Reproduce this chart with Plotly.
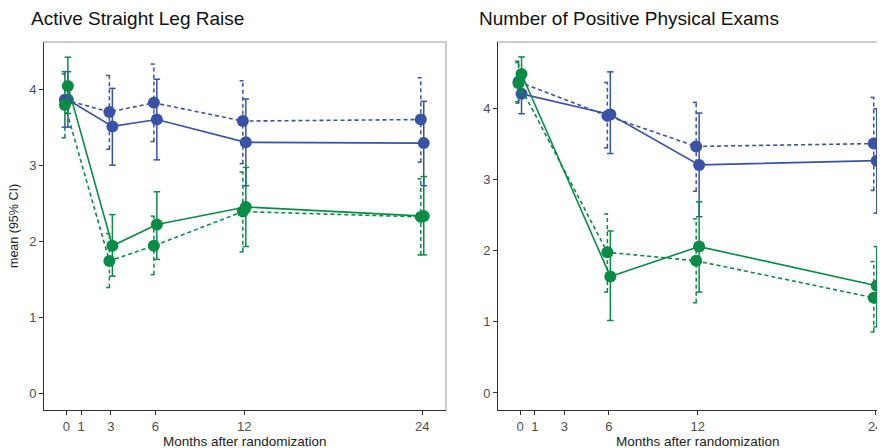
import plotly.graph_objects as go

# ---------------- data ----------------
# Panel 1: Active Straight Leg Raise
months_aslr = [0, 3, 6, 12, 24]
aslr_blue_solid = [3.86, 3.51, 3.60, 3.30, 3.29]
aslr_blue_solid_lo = [3.50, 3.00, 3.07, 2.73, 2.73]
aslr_blue_solid_hi = [4.23, 4.01, 4.13, 3.87, 3.84]
aslr_blue_dash = [3.86, 3.70, 3.82, 3.58, 3.60]
aslr_blue_dash_lo = [3.50, 3.21, 3.31, 3.02, 3.04]
aslr_blue_dash_hi = [4.20, 4.18, 4.33, 4.11, 4.15]
aslr_green_solid = [4.04, 1.94, 2.22, 2.45, 2.33]
aslr_green_solid_lo = [3.68, 1.54, 1.76, 1.93, 1.82]
aslr_green_solid_hi = [4.42, 2.35, 2.65, 2.97, 2.85]
aslr_green_dash = [3.79, 1.74, 1.94, 2.39, 2.32]
aslr_green_dash_lo = [3.36, 1.39, 1.56, 1.86, 1.82]
aslr_green_dash_hi = [4.23, 2.10, 2.33, 2.91, 2.82]

# Panel 2: Number of Positive Physical Exams
months_exam = [0, 6, 12, 24]
exam_blue_solid = [4.21, 3.92, 3.21, 3.27]
exam_blue_solid_lo = [3.93, 3.37, 2.48, 2.53]
exam_blue_solid_hi = [4.48, 4.52, 3.94, 4.00]
exam_blue_dash = [4.38, 3.90, 3.47, 3.51]
exam_blue_dash_lo = [4.08, 3.45, 2.84, 2.85]
exam_blue_dash_hi = [4.67, 4.37, 4.09, 4.16]
exam_green_solid = [4.49, 1.64, 2.06, 1.51]
exam_green_solid_lo = [4.22, 1.02, 1.42, 0.93]
exam_green_solid_hi = [4.73, 2.28, 2.69, 2.06]
exam_green_dash = [4.36, 1.98, 1.86, 1.34]
exam_green_dash_lo = [4.10, 1.42, 1.27, 0.86]
exam_green_dash_hi = [4.65, 2.52, 2.45, 1.85]

x_tick_vals = [0, 1, 3, 6, 12, 24]
y_tick_vals = [0, 1, 2, 3, 4]
titles = ["Active Straight Leg Raise", "Number of Positive Physical Exams"]
x_title = "Months after randomization"
y_title = "mean (95% CI)"

# ---------------- style ----------------
BLUE = "#3a52a6"
GREEN = "#098c45"
DODGE = 0.1
CAP = 0.22
DASH = "4px,3px"

W, H = 885, 448
PAGE_OFF = 8  # default body margin of the html page


def X(px):
    return (px - PAGE_OFF) / W


def Y(py):
    return (H - (py - PAGE_OFF)) / H


fig = go.Figure()


def add_series(months, mean, lo, hi, color, dashed, xa, ya):
    off = -DODGE if dashed else DODGE
    xs = [m + off for m in months]
    ex, ey = [], []
    for x, l, h in zip(xs, lo, hi):
        ex += [x, x, None, x - CAP, x + CAP, None, x - CAP, x + CAP, None]
        ey += [l, h, None, l, l, None, h, h, None]
    fig.add_trace(go.Scatter(
        x=ex, y=ey, mode="lines", xaxis=xa, yaxis=ya,
        line=dict(color=color, width=1.5, dash=DASH if dashed else "solid"),
        hoverinfo="skip", showlegend=False))
    fig.add_trace(go.Scatter(
        x=xs, y=mean, mode="lines+markers", xaxis=xa, yaxis=ya,
        line=dict(color=color, width=1.6, dash=DASH if dashed else "solid"),
        marker=dict(color=color, size=12, line=dict(width=0)),
        showlegend=False))


# panel 1
add_series(months_aslr, aslr_blue_dash, aslr_blue_dash_lo, aslr_blue_dash_hi, BLUE, True, "x", "y")
add_series(months_aslr, aslr_blue_solid, aslr_blue_solid_lo, aslr_blue_solid_hi, BLUE, False, "x", "y")
add_series(months_aslr, aslr_green_dash, aslr_green_dash_lo, aslr_green_dash_hi, GREEN, True, "x", "y")
add_series(months_aslr, aslr_green_solid, aslr_green_solid_lo, aslr_green_solid_hi, GREEN, False, "x", "y")
# panel 2
add_series(months_exam, exam_blue_dash, exam_blue_dash_lo, exam_blue_dash_hi, BLUE, True, "x2", "y2")
add_series(months_exam, exam_blue_solid, exam_blue_solid_lo, exam_blue_solid_hi, BLUE, False, "x2", "y2")
add_series(months_exam, exam_green_dash, exam_green_dash_lo, exam_green_dash_hi, GREEN, True, "x2", "y2")
add_series(months_exam, exam_green_solid, exam_green_solid_lo, exam_green_solid_hi, GREEN, False, "x2", "y2")

FONT = "Liberation Sans, Arial, sans-serif"
TICKFONT = dict(family=FONT, size=13, color="#4d4d4d")

common_x = dict(tickmode="array", tickvals=x_tick_vals, ticks="outside", ticklen=4,
                tickcolor="#333333", showline=True, linecolor="#333333", linewidth=1,
                showgrid=False, zeroline=False, tickfont=TICKFONT, fixedrange=True,
                automargin=False)
common_y = dict(tickmode="array", tickvals=y_tick_vals, ticks="outside", ticklen=4,
                tickcolor="#333333", showline=True, linecolor="#333333", linewidth=1,
                showgrid=False, zeroline=False, tickfont=TICKFONT, fixedrange=True,
                automargin=False)

ydom = [Y(410), Y(42)]
fig.update_layout(
    template="none",
    width=W, height=H,
    autosize=False,
    margin=dict(l=0, r=0, t=0, b=0, pad=0),
    paper_bgcolor="white", plot_bgcolor="white",
    font=dict(family=FONT),
    xaxis=dict(domain=[X(44), X(446)], range=[-1.51, 25.6], anchor="y", **common_x),
    yaxis=dict(domain=ydom, range=[-0.22, 4.62], anchor="x", **common_y),
    xaxis2=dict(domain=[X(498), 1.0], range=[-1.49, 25.2], anchor="y2", **common_x),
    yaxis2=dict(domain=ydom, range=[-0.24, 4.94], anchor="x2", **common_y),
    showlegend=False,
)

# panel borders (top and right, lighter grey)
border = dict(color="#999999", width=1)
fig.add_shape(type="line", xref="x domain", yref="y domain", x0=0, x1=1, y0=1, y1=1, line=border)
fig.add_shape(type="line", xref="x domain", yref="y domain", x0=1, x1=1, y0=0, y1=1, line=border)
fig.add_shape(type="line", xref="x2 domain", yref="y2 domain", x0=0, x1=1, y0=1, y1=1, line=border)

# titles
for xp, t in zip([29, 477], titles):
    fig.add_annotation(text=t, x=X(xp), y=Y(18), xref="paper", yref="paper",
                       xanchor="left", yanchor="middle", showarrow=False,
                       font=dict(family=FONT, size=19, color="#111111"))

# x titles
for xc in [245, 698]:
    fig.add_annotation(text=x_title, x=X(xc), y=Y(441), xref="paper", yref="paper",
                       xanchor="center", yanchor="middle", showarrow=False,
                       font=dict(family=FONT, size=13.5, color="#222222"))

# y title
fig.add_annotation(text=y_title, x=X(14), y=Y(226), xref="paper", yref="paper",
                   xanchor="center", yanchor="middle", textangle=-90, showarrow=False,
                   font=dict(family=FONT, size=12.5, color="#222222"))

fig.write_html("out.html")
